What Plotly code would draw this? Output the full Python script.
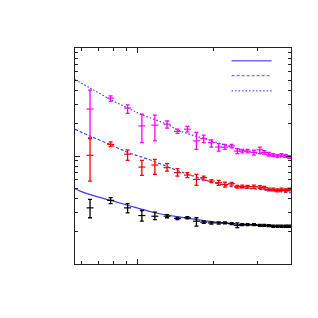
import plotly.graph_objects as go

# x positions (shared by all three series)
x_vals = [6.48, 7.82, 9.13, 10.40, 11.71, 13.09, 14.39, 15.76, 17.11, 18.28,
          19.61, 20.96, 22.19, 23.59, 24.85, 26.0, 27.29, 28.90, 30.52, 31.77,
          33.13, 34.48, 35.86, 37.19, 38.68, 39.89]

# magenta series
mag_y  = [27.2, 34.4, 27.8, 19.0, 19.3, 19.7, 16.9, 17.7, 13.8, 14.5, 13.3, 12.1, 12.1,
          12.4, 11.1, 11.1, 11.1, 10.8, 11.4, 10.8, 10.4, 10.2, 10.0, 10.2, 10.0, 9.8]
mag_hi = [40.8, 36.1, 29.8, 24.4, 23.9, 21.1, 17.7, 18.8, 16.5, 15.6, 14.1, 13.0, 12.8,
          12.8, 11.7, 11.5, 11.5, 11.3, 12.1, 11.2, 10.8, 10.5, 10.3, 10.5, 10.3, 10.1]
mag_lo = [14.8, 32.0, 24.8, 13.3, 13.8, 18.1, 16.2, 16.7, 11.5, 13.3, 12.1, 11.1, 11.5,
          11.9, 10.5, 10.7, 10.7, 10.2, 10.5, 10.4, 10.0, 9.9, 9.7, 9.9, 9.7, 9.5]

# red series
red_y  = [10.15, 12.8, 10.4, 7.9, 8.25, 7.80, 7.01, 6.66, 6.07, 6.30, 5.86, 5.66, 5.46,
          5.54, 5.20, 5.23, 5.20, 5.20, 5.15, 5.09, 4.90, 4.90, 4.80, 4.90, 4.80, 4.90]
red_hi = [14.5, 13.5, 11.4, 9.12, 9.32, 8.50, 7.64, 7.01, 6.76, 6.52, 6.05, 5.95, 5.74,
          5.70, 5.35, 5.38, 5.35, 5.38, 5.32, 5.24, 5.05, 5.05, 4.95, 5.05, 4.95, 5.05]
red_lo = [5.86, 12.2, 9.12, 6.62, 6.76, 7.25, 6.52, 6.30, 5.34, 5.98, 5.67, 5.34, 5.15,
          5.38, 5.05, 5.08, 5.05, 5.02, 4.98, 4.94, 4.76, 4.76, 4.66, 4.76, 4.66, 4.76]

# black series
blk_y  = [3.31, 3.88, 3.31, 2.81, 2.77, 2.77, 2.64, 2.68, 2.49, 2.44, 2.40, 2.40, 2.40,
          2.37, 2.28, 2.32, 2.32, 2.32, 2.28, 2.28, 2.27, 2.24, 2.24, 2.24, 2.24, 2.24]
blk_hi = [3.96, 4.11, 3.63, 3.13, 3.02, 2.87, 2.70, 2.74, 2.68, 2.50, 2.46, 2.46, 2.45,
          2.42, 2.40, 2.37, 2.37, 2.37, 2.33, 2.33, 2.32, 2.29, 2.29, 2.29, 2.29, 2.29]
blk_lo = [2.68, 3.63, 2.98, 2.49, 2.58, 2.68, 2.58, 2.62, 2.24, 2.38, 2.34, 2.34, 2.35,
          2.32, 2.17, 2.27, 2.27, 2.27, 2.23, 2.23, 2.22, 2.19, 2.19, 2.19, 2.19, 2.19]

# fit curves
mag_fit_x = [5.65, 6.48, 7.77, 9.15, 10.40, 13.06, 14.70, 19.31, 25.37, 31.86, 40.55]
mag_fit_y = [50.9, 42.6, 33.6, 27.8, 24.1, 19.7, 17.1, 14.0, 11.5, 10.3, 9.52]
red_fit_x = [5.65, 6.48, 7.77, 9.15, 11.18, 14.70, 22.13, 30.43, 40.55]
red_fit_y = [17.7, 15.3, 12.8, 10.8, 9.22, 7.21, 5.34, 4.90, 4.57]
blk_fit_x = [5.65, 5.92, 6.79, 7.77, 9.15, 11.60, 14.70, 22.13, 40.55]
blk_fit_y = [4.98, 4.73, 4.25, 3.90, 3.50, 3.00, 2.72, 2.39, 2.19]

FIT_COLOR = "#3a3aff"
DASH = "3px,2px"
DOT = "1.5px,2px"

fig = go.Figure()

for fx, fy, dash in [(mag_fit_x, mag_fit_y, DOT),
                     (red_fit_x, red_fit_y, DASH),
                     (blk_fit_x, blk_fit_y, "solid")]:
    fig.add_trace(go.Scatter(x=fx, y=fy, mode="lines",
                             line=dict(color=FIT_COLOR, width=1.2, dash=dash, shape="spline"),
                             showlegend=False, hoverinfo="skip"))

for ys, hi, lo, col in [(mag_y, mag_hi, mag_lo, "#ff00ff"),
                        (red_y, red_hi, red_lo, "#ff0000"),
                        (blk_y, blk_hi, blk_lo, "#000000")]:
    fig.add_trace(go.Scatter(
        x=x_vals, y=ys, mode="markers",
        marker=dict(symbol="line-ew", size=5, color=col, line=dict(color=col, width=1.2)),
        error_y=dict(type="data", symmetric=False,
                     array=[h - v for h, v in zip(hi, ys)],
                     arrayminus=[v - l for l, v in zip(lo, ys)],
                     color=col, thickness=1.3, width=2),
        showlegend=False))

# legend samples (no text)
for yp, dash in [(0.941, "solid"), (0.872, DASH), (0.802, DOT)]:
    fig.add_shape(type="line", xref="paper", yref="paper", x0=0.725, x1=0.910,
                  y0=yp, y1=yp, line=dict(color="#6f6fff", width=1.3, dash=dash))

axis_common = dict(type="log", showticklabels=False, showgrid=False, zeroline=False,
                   showline=True, linecolor="#222", linewidth=1, mirror="allticks",
                   ticks="inside", tickcolor="#222", ticklen=5, tickwidth=1)

fig.update_xaxes(**axis_common, range=[0.752, 1.608], tickvals=[10],
                 minor=dict(tickvals=[6, 7, 8, 9, 20, 30], ticklen=3, ticks="inside",
                            tickcolor="#222", showgrid=False))
fig.update_yaxes(**axis_common, range=[0, 2], tickvals=[1, 10, 100],
                 minor=dict(tickvals=[2, 3, 4, 5, 6, 7, 8, 9, 20, 30, 40, 50, 60, 70, 80, 90],
                            ticklen=3, ticks="inside", tickcolor="#222", showgrid=False))

fig.update_layout(width=318, height=318, margin=dict(l=67, r=35, t=40, b=62),
                  paper_bgcolor="white", plot_bgcolor="white", showlegend=False)

fig.write_html("out.html")
